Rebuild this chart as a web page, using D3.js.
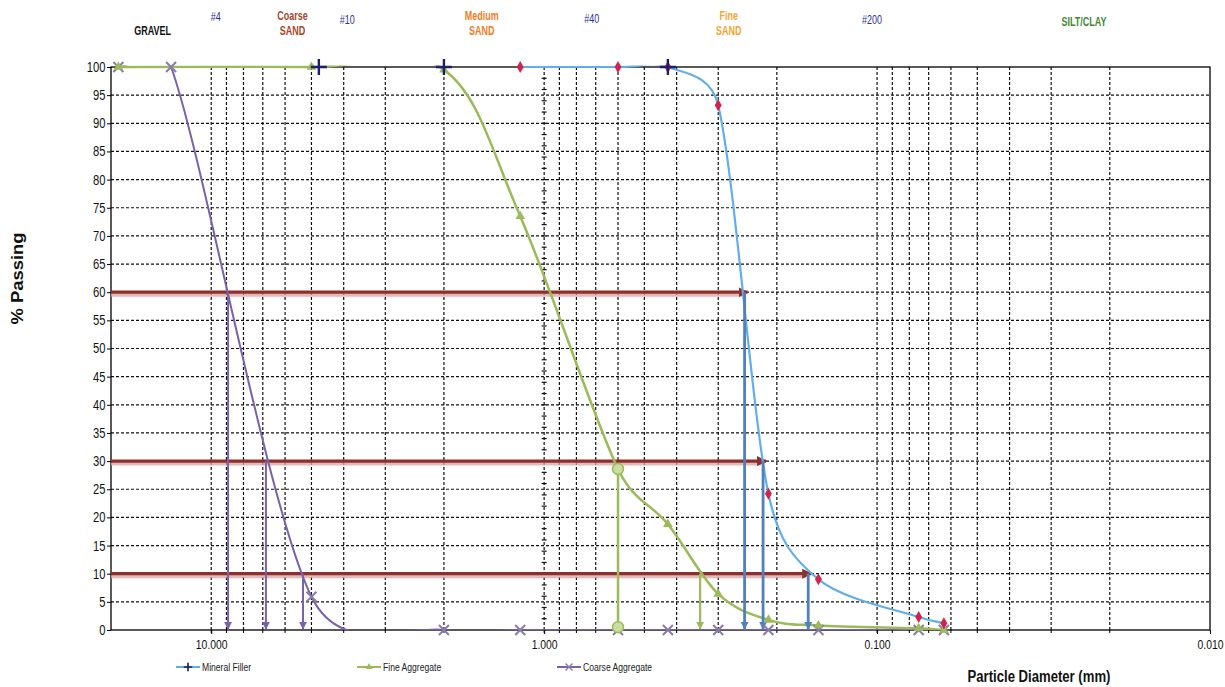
<!DOCTYPE html>
<html>
<head>
<meta charset="utf-8">
<script src="https://cdn.jsdelivr.net/npm/d3@7"></script>
<style>
  body { margin: 0; background: #fff; }
  svg { display: block; font-family: "Liberation Sans", Arial, sans-serif; }
</style>
</head>
<body>
<div id="chart"></div>
<script>
// sieve size (mm) and % passing
const mineralSize = [1.18, 0.6, 0.425, 0.3, 0.212, 0.15, 0.075, 0.063];
const mineralPass = [100, 100, 100, 93.2, 24.2, 9, 2.3, 1.2];
const fineSize = [19, 5.0, 2.0, 1.18, 0.6, 0.425, 0.3, 0.212, 0.15, 0.075, 0.063];
const finePass = [100, 100, 99.5, 73.5, 28.6, 18.8, 6.4, 1.8, 0.8, 0.3, 0];
const coarseSize = [19, 13.2, 5.0, 2.0, 1.18, 0.6, 0.425, 0.3, 0.212, 0.15, 0.075, 0.063];
const coarsePass = [100, 100, 5.9, 0, 0, 0, 0, 0, 0, 0, 0, 0];
// navy "+" sieve markers along the top
const sieveSize = [4.75, 2.0, 0.425];
const sievePass = [100, 100, 100];

// D60 / D30 / D10 read-outs
const dLevels = [60, 30, 10];
const mineralD = [0.25, 0.22, 0.161];
const coarseD = [8.9, 6.85, 5.3];
const fineD = [null, 0.6, 0.34];
const fineD30Top = 28.6;

const xLabels = [10, 1, 0.1, 0.01];
const headers = [
  { lines: ['GRAVEL'], at: 15, color: '#111', bold: true, row: 31 },
  { lines: ['#4'], at: 9.7, color: '#2e3192', bold: false, row: 17 },
  { lines: ['Coarse', 'SAND'], at: 5.7, color: '#a5472b', bold: true, row: 16 },
  { lines: ['#10'], at: 3.9, color: '#2e3192', bold: false, row: 20 },
  { lines: ['Medium', 'SAND'], at: 1.54, color: '#f07d1e', bold: true, row: 16 },
  { lines: ['#40'], at: 0.72, color: '#2e3192', bold: false, row: 19 },
  { lines: ['Fine', 'SAND'], at: 0.279, color: '#f5a530', bold: true, row: 16 },
  { lines: ['#200'], at: 0.1035, color: '#2e3192', bold: false, row: 20 },
  { lines: ['SILT/CLAY'], at: 0.0239, color: '#3f8a36', bold: true, row: 22 }
];

const C = {
  blue: '#62aeea', blueDrop: '#4f81bd', green: '#9bbb59', purple: '#7a62aa',
  red: '#8e2f2c', diamond: '#d2234f', navy: '#1e1e6e', cross: '#8a7ca8'
};

const W = 1225, H = 687;
const P = { l: 111, r: 1210, t: 67, b: 630 };
const NARROW = 0.8;   // squeeze text like Arial Narrow

const svg = d3.select('#chart').append('svg')
  .attr('width', W).attr('height', H)
  .attr('viewBox', `0 0 ${W} ${H}`);

const x = d3.scaleLog().domain([20, 0.01]).range([P.l, P.r]);
const y = d3.scaleLinear().domain([0, 100]).range([P.b, P.t]);

// Excel-style smoothed line: cardinal bezier, arms capped at half the segment
function ExcelSmooth(context) { this._context = context; }
ExcelSmooth.prototype = {
  areaStart() {}, areaEnd() {},
  lineStart() { this._pts = []; },
  point(px, py) { this._pts.push([+px, +py]); },
  lineEnd() {
    const p = this._pts, c = this._context, n = p.length;
    if (!n) return;
    c.moveTo(p[0][0], p[0][1]);
    for (let i = 0; i < n - 1; i++) {
      const p0 = p[i - 1] || p[i], p1 = p[i], p2 = p[i + 1], p3 = p[i + 2] || p[i + 1];
      const half = Math.hypot(p2[0] - p1[0], p2[1] - p1[1]) / 2;
      const arm = (a, b) => {
        let dx = (b[0] - a[0]) / 6, dy = (b[1] - a[1]) / 6;
        const L = Math.hypot(dx, dy);
        if (L > half && L > 0) { dx *= half / L; dy *= half / L; }
        return [dx, dy];
      };
      const a1 = arm(p0, p2), a2 = arm(p1, p3);
      c.bezierCurveTo(p1[0] + a1[0], p1[1] + a1[1], p2[0] - a2[0], p2[1] - a2[1], p2[0], p2[1]);
    }
  }
};
const curveExcel = ctx => new ExcelSmooth(ctx);

const defs = svg.append('defs');
defs.append('clipPath').attr('id', 'plot')
  .append('rect').attr('x', P.l).attr('y', P.t - 1.5).attr('width', P.r - P.l).attr('height', P.b - P.t + 1.5);

function arrow(id, color, size) {
  defs.append('marker').attr('id', id)
    .attr('viewBox', '0 0 10 10').attr('refX', 9).attr('refY', 5)
    .attr('markerUnits', 'userSpaceOnUse')
    .attr('markerWidth', size).attr('markerHeight', size)
    .attr('orient', 'auto')
    .append('path').attr('d', 'M0,0L10,5L0,10z').attr('fill', color);
}
arrow('arRed', C.red, 10);
arrow('arPurple', C.purple, 8);
arrow('arGreen', C.green, 8);
arrow('arBlue', C.blueDrop, 8);

// grid
const gx = x.ticks().filter(v => v > 0.0101 && v < 19.9);
const gy = y.ticks(20).filter(v => v > 0 && v < 100);
const grid = svg.append('g').attr('stroke', '#111').attr('stroke-width', 1.2).attr('stroke-dasharray', '3,2');
grid.selectAll('.gy').data(gy).enter().append('line')
  .attr('x1', P.l).attr('x2', P.r).attr('y1', d => y(d)).attr('y2', d => y(d));
grid.selectAll('.gx').data(gx).enter().append('line')
  .attr('y1', P.t).attr('y2', P.b).attr('x1', d => x(d)).attr('x2', d => x(d));

// small cross ticks along the 1.000 line
svg.append('g').attr('stroke', '#111').attr('stroke-width', 1.2)
  .selectAll('line').data(d3.range(2, 100, 2)).enter().append('line')
  .attr('x1', x(1) - 2.5).attr('x2', x(1) + 2.5)
  .attr('y1', d => y(d)).attr('y2', d => y(d));

// frame
svg.append('rect').attr('x', P.l).attr('y', P.t).attr('width', P.r - P.l).attr('height', P.b - P.t)
  .attr('fill', 'none').attr('stroke', '#000').attr('stroke-width', 1.3);

// y axis
const yAxis = svg.append('g').attr('transform', `translate(${P.l},0)`)
  .call(d3.axisLeft(y).tickValues(y.ticks(20)).tickSize(4).tickPadding(3).tickFormat(d3.format('d')));
yAxis.select('.domain').remove();
yAxis.selectAll('text').style('font-size', '14px').attr('fill', '#111')
  .attr('transform', `scale(${NARROW},1)`);

// x axis
const xAxis = svg.append('g').attr('transform', `translate(0,${P.b})`)
  .call(d3.axisBottom(x).tickValues(xLabels).tickSize(4).tickPadding(6).tickFormat(d3.format('.3f')));
xAxis.select('.domain').remove();
xAxis.selectAll('text').style('font-size', '13px').attr('fill', '#111')
  .attr('transform', `scale(${NARROW},1)`);
svg.append('g').attr('stroke', '#000').selectAll('line').data(gx).enter().append('line')
  .attr('x1', d => x(d)).attr('x2', d => x(d)).attr('y1', P.b).attr('y2', P.b + 3);

// header labels
headers.forEach(h => {
  const t = svg.append('text')
    .attr('transform', `translate(${x(h.at)},${h.row + 4}) scale(0.75,1)`)
    .attr('text-anchor', 'middle')
    .attr('fill', h.color)
    .attr('font-weight', h.bold ? 'bold' : 'normal')
    .style('font-size', '12px');
  h.lines.forEach((ln, i) => t.append('tspan').attr('x', 0).attr('dy', i ? 15 : 0).text(ln));
});

// D-level read-out lines (dark red, out to the mineral filler curve)
const red = svg.append('g');
red.selectAll('.sh').data(dLevels).enter().append('line')
  .attr('x1', P.l).attr('x2', (d, i) => x(mineralD[i]) - 2)
  .attr('y1', d => y(d) + 2.5).attr('y2', d => y(d) + 2.5)
  .attr('stroke', '#d9a3a3').attr('stroke-width', 4).attr('opacity', 0.75);
red.selectAll('.ln').data(dLevels).enter().append('line')
  .attr('x1', P.l).attr('x2', (d, i) => x(mineralD[i]) + 3)
  .attr('y1', d => y(d)).attr('y2', d => y(d))
  .attr('stroke', C.red).attr('stroke-width', 3.2)
  .attr('marker-end', 'url(#arRed)');

const plot = svg.append('g').attr('clip-path', 'url(#plot)');
const line = d3.line().x(d => x(d[0])).y(d => y(d[1])).curve(curveExcel);
const zip = (a, b) => a.map((v, i) => [v, b[i]]);

const series = [
  { name: 'Coarse Aggregate', pts: zip(coarseSize, coarsePass), color: C.purple, w: 2, marker: 'x' },
  { name: 'Fine Aggregate', pts: zip(fineSize, finePass), color: C.green, w: 2.5, marker: 'tri' },
  { name: 'Mineral Filler', pts: zip(mineralSize, mineralPass), color: C.blue, w: 2.2, marker: 'dia' }
];

series.forEach(s => {
  plot.append('path').datum(s.pts)
    .attr('d', line).attr('fill', 'none')
    .attr('stroke', s.color).attr('stroke-width', s.w);
});

// vertical drop lines
function drops(vals, color, arrowId, w) {
  svg.append('g').selectAll('line')
    .data(dLevels.map((lv, i) => [vals[i], lv]).filter(d => d[0] != null))
    .enter().append('line')
    .attr('x1', d => x(d[0])).attr('x2', d => x(d[0]))
    .attr('y1', d => y(d[1])).attr('y2', y(0) - 1)
    .attr('stroke', color).attr('stroke-width', w)
    .attr('marker-end', `url(#${arrowId})`);
}
drops(coarseD, C.purple, 'arPurple', 2);
drops(mineralD, C.blueDrop, 'arBlue', 2.8);
drops(fineD.map((v, i) => i === 2 ? v : null), C.green, 'arGreen', 2.2);
// fine D30 with round ends
const d30 = fineD[1];
svg.append('line')
  .attr('x1', x(d30)).attr('x2', x(d30)).attr('y1', y(fineD30Top)).attr('y2', y(0))
  .attr('stroke', C.green).attr('stroke-width', 2.5);

// markers
const mk = svg.append('g');
function drawMarker(g, type) {
  if (type === 'dia') {
    g.append('path').attr('d', d3.symbol(d3.symbolDiamond, 42)()).attr('fill', C.diamond);
  } else if (type === 'tri') {
    g.append('path').attr('d', d3.symbol(d3.symbolTriangle, 40)()).attr('fill', C.green);
  } else if (type === 'x') {
    g.append('path').attr('d', 'M-5,-5L5,5M-5,5L5,-5').attr('stroke', C.cross).attr('stroke-width', 2);
  } else if (type === 'plus') {
    g.append('path').attr('d', 'M-8,0H8M0,-8V8').attr('stroke', C.navy).attr('stroke-width', 2.4);
  }
}
series.forEach(s => {
  s.pts.forEach(p => {
    drawMarker(mk.append('g').attr('transform', `translate(${x(p[0])},${y(p[1])})`), s.marker);
  });
});
zip(sieveSize, sievePass).forEach(p => {
  drawMarker(mk.append('g').attr('transform', `translate(${x(p[0])},${y(p[1])})`), 'plus');
});
[fineD30Top, 0.5].forEach(v => {
  mk.append('circle').attr('cx', x(d30)).attr('cy', y(v)).attr('r', 5.5)
    .attr('fill', '#c9dea0').attr('stroke', C.green).attr('stroke-width', 1.5);
});

// axis titles
svg.append('text')
  .attr('transform', `translate(23,${(P.t + P.b) / 2 - 70}) rotate(-90) scale(1.15,1)`)
  .attr('text-anchor', 'middle').attr('font-weight', 'bold')
  .style('font-size', '16px').attr('fill', '#111').text('% Passing');
svg.append('text')
  .attr('transform', `translate(1039,682) scale(0.82,1)`)
  .attr('text-anchor', 'middle').attr('font-weight', 'bold')
  .style('font-size', '16px').attr('fill', '#111').text('Particle Diameter (mm)');

// legend
const legendX = [176, 357, 557];
const legendOrder = [series[2], series[1], series[0]];
const lg = svg.append('g').attr('transform', 'translate(0,667)');
legendOrder.forEach((s, i) => {
  const g = lg.append('g').attr('transform', `translate(${legendX[i]},0)`);
  g.append('line').attr('x1', 0).attr('x2', 24).attr('stroke', s.color).attr('stroke-width', 2);
  const m = g.append('g').attr('transform', 'translate(12,0) scale(0.7)');
  if (s.marker === 'dia') {
    m.append('path').attr('d', 'M-6,0H6M0,-6V6').attr('stroke', C.navy).attr('stroke-width', 2.4);
  } else drawMarker(m, s.marker);
  g.append('text').attr('transform', 'translate(26,4) scale(0.78,1)')
    .style('font-size', '11px').attr('fill', '#222').text(s.name);
});
</script>
</body>
</html>
